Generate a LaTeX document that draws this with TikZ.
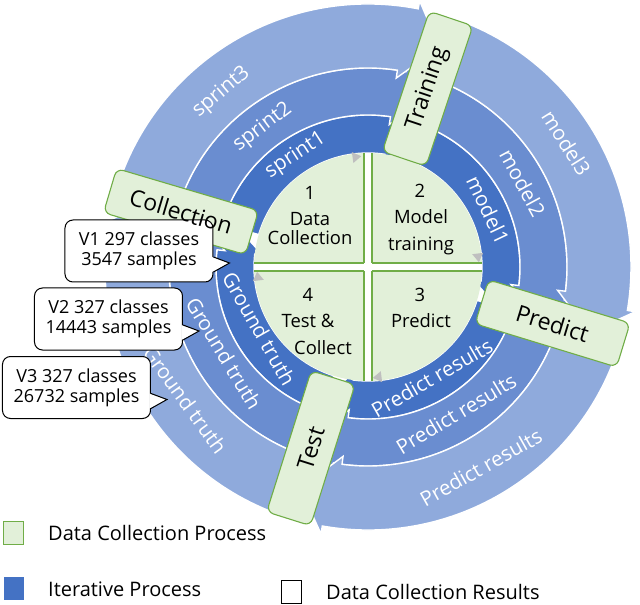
\documentclass[tikz,border=0pt]{standalone}
\usepackage{fontspec}
\setmainfont{Open Sans}
\usetikzlibrary{calc}
\definecolor{ringA}{HTML}{4472C4}
\definecolor{ringB}{HTML}{6A8DD0}
\definecolor{ringC}{HTML}{8FAADC}
\definecolor{lgreen}{HTML}{E2F0D9}
\definecolor{dgreen}{HTML}{70AD47}
\definecolor{tricol}{HTML}{BFBFBF}
% #1 inner radius, #2 outer radius, #3 start angle, #4 target box angle, #5 colour
\newcommand{\ringseg}[5]{%
  \pgfmathsetmacro\rmidv{(#1+#2)/2}%
  \pgfmathsetmacro\rinb{#1-8}%
  \pgfmathsetmacro\routb{#2+8}%
  \pgfmathsetmacro\bo{#4+7.5}%
  \pgfmathsetmacro\bi{#4+10}%
  \pgfmathsetmacro\tp{#4+0.5}%
  \filldraw[fill=#5, draw=white, line width=1.4pt, line join=miter]
    (#3:#2pt) arc[start angle=#3, end angle=\bo, radius=#2pt]
    -- (\bo:\routb pt) -- (\tp:\rmidv pt) -- (\bi:\rinb pt) -- (\bi:#1pt)
    arc[start angle=\bi, end angle=#3, radius=#1pt] -- cycle;
}
\newcommand{\greytri}[1]{%
  \pgfmathsetmacro\tb{#1+4.5}%
  \fill[tricol] (#1:111pt) -- (\tb:116pt) -- (\tb:105pt) -- cycle;
}
\tikzset{
  rlabel/.style={text=white, font=\fontsize{20.5}{21}\selectfont, inner sep=0pt},
  gbox/.style={rectangle, rounded corners=7pt, minimum width=148pt, minimum height=46pt,
    fill=lgreen, draw=dgreen, line width=1.1pt, inner sep=0pt},
  btext/.style={font=\fontsize{23}{24}\selectfont, inner sep=0pt, text=black},
  dtext/.style={font=\fontsize{18.4}{20}\selectfont, inner sep=0pt, anchor=base},
  callout/.style={draw=black, fill=white, rounded corners=8pt, line width=1pt,
    minimum width=148pt, minimum height=62pt, align=center,
    font=\fontsize{18}{20}\selectfont, inner sep=0pt},
  legsq/.style={minimum width=20pt, minimum height=23pt, inner sep=0pt, line width=1pt},
  legtext/.style={font=\fontsize{20}{22}\selectfont, inner sep=0pt, anchor=west}
}
\begin{document}
\begin{tikzpicture}[x=1pt,y=1pt]
\useasboundingbox (-368,-338) rectangle (272,267);
% rings (inner first, outer on top)
\foreach \rin/\rout/\col in {114/152/ringA, 152/199/ringB, 199/263/ringC}{
  \ringseg{\rin}{\rout}{163.5}{71.5}{\col}
  \ringseg{\rin}{\rout}{71.5}{-17}{\col}
  \ringseg{\rin}{\rout}{-17}{-107.5}{\col}
  \ringseg{\rin}{\rout}{-107.5}{-196.5}{\col}
}
% ring labels
\node[rlabel, rotate=33] (s1) at (123:133pt) {sprint1};
\node[rlabel, rotate=37] (s2) at (127:175pt) {sprint2};
\node[rlabel, rotate=40] (s3) at (130:228pt) {sprint3};
\node[rlabel, rotate=-64.6] (m1) at (25.4:133pt) {model1};
\node[rlabel, rotate=-61.5] (m2) at (28.5:176pt) {model2};
\node[rlabel, rotate=-58] (m3) at (32:234pt) {model3};
\node[rlabel, rotate=30] (p1) at (-60:128pt) {Predict results};
\node[rlabel, rotate=31] (p2) at (-59:171pt) {Predict results};
\node[rlabel, rotate=29.4] (p3) at (-60.6:230pt) {Predict results};
\node[rlabel, rotate=-60.5] (g1) at (209.5:125pt) {Ground truth};
\node[rlabel, rotate=-59] (g2) at (211:168pt) {Ground truth};
\node[rlabel, rotate=-54] (g3) at (216:226pt) {Ground truth};
% inner disk
\fill[lgreen] (0,0) circle[radius=114pt];
\begin{scope}
  \clip (0,0) circle[radius=114pt];
  \fill[white] (-4,-120) rectangle (4,120);
  \fill[white] (-120,-4) rectangle (120,4);
\end{scope}
\draw[dgreen, line width=1.2pt] (-4,4) -- (-4,113.9) (-4,4) -- (-113.9,4);
\draw[dgreen, line width=1.2pt] (4,4) -- (4,113.9) (4,4) -- (113.9,4);
\draw[dgreen, line width=1.2pt] (4,-4) -- (4,-113.9) (4,-4) -- (113.9,-4);
\draw[dgreen, line width=1.2pt] (-4,-4) -- (-4,-113.9) (-4,-4) -- (-113.9,-4);
\greytri{93.5}
\greytri{2.5}
\greytri{-87.5}
\greytri{182.5}
% disk texts
\node[dtext] (q1a) at (-58,67) {1};
\node[dtext] (q1b) at (-58,41) {Data};
\node[dtext] (q1c) at (-58,22) {Collection};
\node[dtext] (q2a) at (52,69) {2};
\node[dtext] (q2b) at (53,43) {Model};
\node[dtext] (q2c) at (53,16) {training};
\node[dtext] (q3a) at (52,-34.6) {3};
\node[dtext] (q3b) at (53,-60) {Predict};
\node[dtext] (q4a) at (-60,-34.6) {4};
\node[dtext] (q4b) at (-60,-61) {Test \&};
\node[dtext] (q4c) at (-45,-88) {Collect};
% green process boxes
\node[gbox, rotate=71.5] (train) at (71.5:188pt) {};
\node[gbox, rotate=-16.5] (coll) at (163.5:195pt) {};
\node[gbox, rotate=-17] (pred) at (-17:193pt) {};
\node[gbox, rotate=72.5] (test) at (-107.5:190pt) {};
\node[btext, rotate=71.5] (traint) at (train.center) {Training};
\node[btext, rotate=-17] (predt) at (pred.center) {Predict};
\node[btext, rotate=72.5] (testt) at (test.center) {Test};
% callouts
\node[callout] (v1) at (-229,16) {V1 297 classes\\3547 samples};
\node[callout] (v2) at (-259.5,-52) {V2 327 classes\\14443 samples};
\node[callout] (v3) at (-291.5,-120.5) {V3 327 classes\\26732 samples};
\foreach \v in {v1,v2,v3}{
  \fill[white] ($(\v.east)+(-1.5,-6)$) -- ($(\v.east)+(16,-12)$) -- ($(\v.east)+(-1.5,-21)$) -- cycle;
  \draw[line width=1pt, line join=miter] ($(\v.east)+(0,-6)$) -- ($(\v.east)+(16,-12)$) -- ($(\v.east)+(0,-21)$);
}
\node[btext, rotate=-16.5] (collt) at (coll.center) {Collection};
% legend
\node[legsq, fill=lgreen, draw=dgreen] (lg1) at (-354,-266) {};
\node[legtext] (lt1) at (-320,-266) {Data Collection Process};
\node[legsq, fill=ringA] (lg2) at (-354,-321.5) {};
\node[legtext] (lt2) at (-320,-322) {Iterative Process};
\node[legsq, fill=white, draw=black] (lg3) at (-76,-324.5) {};
\node[legtext] (lt3) at (-42,-325) {Data Collection Results};
\end{tikzpicture}
\end{document}
